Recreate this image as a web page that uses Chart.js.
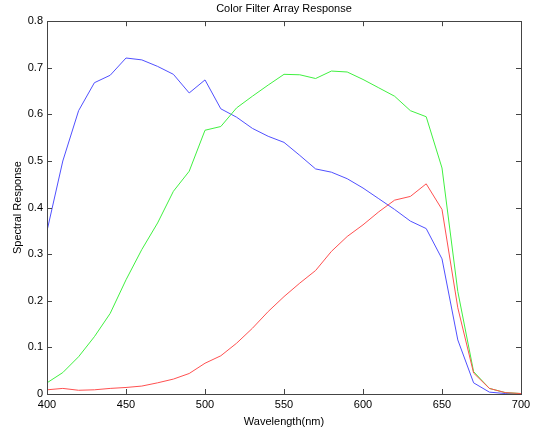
<!DOCTYPE html>
<html lang="en">
<head>
  <meta charset="UTF-8" />
  <title>Color Filter Array Response</title>
  <script src="https://cdn.jsdelivr.net/npm/chart.js"></script>
  <style>
    html, body {
      margin: 0;
      padding: 0;
      background: #fff;
    }
    .wrap {
      width: 542px;
      height: 429px;
    }
  </style>
</head>
<body>
  <div class="wrap"><canvas id="cfa" width="542" height="429"></canvas></div>

  <script>
    // wavelengths (nm), one sample every 10 nm
    const wavelength = [400, 410, 420, 430, 440, 450, 460, 470, 480, 490, 500,
                        510, 520, 530, 540, 550, 560, 570, 580, 590, 600,
                        610, 620, 630, 640, 650, 660, 670, 680, 690, 700];

    const redResp = [0.009, 0.012, 0.008, 0.009, 0.012, 0.014, 0.017, 0.024, 0.032, 0.044, 0.066,
                     0.082, 0.109, 0.141, 0.177, 0.209, 0.238, 0.265, 0.306, 0.338, 0.363,
                     0.391, 0.416, 0.424, 0.451, 0.396, 0.185, 0.045, 0.012, 0.003, 0.001];

    const greenResp = [0.024, 0.046, 0.080, 0.123, 0.173, 0.245, 0.310, 0.367, 0.435, 0.478, 0.566,
                       0.574, 0.614, 0.639, 0.663, 0.686, 0.685, 0.677, 0.693, 0.691, 0.675,
                       0.657, 0.639, 0.608, 0.595, 0.485, 0.220, 0.048, 0.012, 0.003, 0.001];

    const blueResp = [0.350, 0.500, 0.608, 0.668, 0.684, 0.721, 0.717, 0.703, 0.686, 0.646, 0.674,
                      0.612, 0.594, 0.570, 0.553, 0.540, 0.512, 0.483, 0.476, 0.462, 0.442,
                      0.419, 0.396, 0.371, 0.355, 0.290, 0.116, 0.024, 0.004, 0.001, 0.000];

    const xTicks = [400, 450, 500, 550, 600, 650, 700];
    const yTicks = [0, 0.1, 0.2, 0.3, 0.4, 0.5, 0.6, 0.7, 0.8];

    function toPoints(vals) {
      return wavelength.map((w, i) => ({ x: w, y: vals[i] }));
    }

    const fontFamily = "'Liberation Sans', Arial, sans-serif";
    const axisColor = '#444';

    // matlab-style box with inward ticks on all four sides
    const boxTicks = {
      id: 'boxTicks',
      afterDraw(chart) {
        const ctx = chart.ctx;
        const a = chart.chartArea;
        const xs = chart.scales.x;
        const ys = chart.scales.y;
        const len = 5;
        ctx.save();
        ctx.strokeStyle = axisColor;
        ctx.lineWidth = 1;
        ctx.strokeRect(Math.round(a.left) + 0.5, Math.round(a.top) + 0.5,
                       Math.round(a.right - a.left), Math.round(a.bottom - a.top));
        ctx.beginPath();
        xTicks.forEach(v => {
          const px = Math.round(xs.getPixelForValue(v)) + 0.5;
          ctx.moveTo(px, a.bottom);
          ctx.lineTo(px, a.bottom - len);
          ctx.moveTo(px, a.top);
          ctx.lineTo(px, a.top + len);
        });
        yTicks.forEach(v => {
          const py = Math.round(ys.getPixelForValue(v)) + 0.5;
          ctx.moveTo(a.left, py);
          ctx.lineTo(a.left + len, py);
          ctx.moveTo(a.right, py);
          ctx.lineTo(a.right - len, py);
        });
        ctx.stroke();
        ctx.restore();
      }
    };

    const series = [
      { label: 'Red', data: toPoints(redResp), color: '#ff5050' },
      { label: 'Green', data: toPoints(greenResp), color: '#40f040' },
      { label: 'Blue', data: toPoints(blueResp), color: '#5050ff' }
    ];

    new Chart(document.getElementById('cfa'), {
      type: 'line',
      data: {
        datasets: series.map(s => ({
          label: s.label,
          data: s.data,
          borderColor: s.color,
          backgroundColor: s.color,
          borderWidth: 1,
          pointRadius: 0,
          tension: 0,
          fill: false
        }))
      },
      options: {
        responsive: false,
        animation: false,
        layout: { padding: { left: 0, right: 21, top: 0, bottom: 0 } },
        plugins: {
          legend: { display: false },
          tooltip: { enabled: false },
          title: {
            display: true,
            text: 'Color Filter Array Response',
            fullSize: false,
            color: '#000',
            font: { family: fontFamily, size: 11, weight: 'normal' },
            padding: { top: 2, bottom: 6 }
          }
        },
        scales: {
          x: {
            type: 'linear',
            min: 400,
            max: 700,
            afterBuildTicks: s => { s.ticks = xTicks.map(v => ({ value: v })); },
            afterFit: s => { s.height = 35; },
            grid: { display: false, drawTicks: false },
            border: { display: false },
            ticks: {
              color: '#000',
              padding: 4,
              maxRotation: 0,
              font: { family: fontFamily, size: 11 }
            },
            title: {
              display: true,
              text: 'Wavelength(nm)',
              color: '#000',
              font: { family: fontFamily, size: 11 },
              padding: { top: 0, bottom: 0 }
            }
          },
          y: {
            min: 0,
            max: 0.8,
            afterBuildTicks: s => { s.ticks = yTicks.map(v => ({ value: v })); },
            afterFit: s => { s.width = 47; },
            grid: { display: false, drawTicks: false },
            border: { display: false },
            ticks: {
              color: '#000',
              padding: 4,
              font: { family: fontFamily, size: 11 },
              callback: v => String(Math.round(v * 10) / 10)
            },
            title: {
              display: true,
              text: 'Spectral Response',
              color: '#000',
              font: { family: fontFamily, size: 11 },
              padding: { top: 11, bottom: 0 }
            }
          }
        }
      },
      plugins: [boxTicks]
    });
  </script>
</body>
</html>
